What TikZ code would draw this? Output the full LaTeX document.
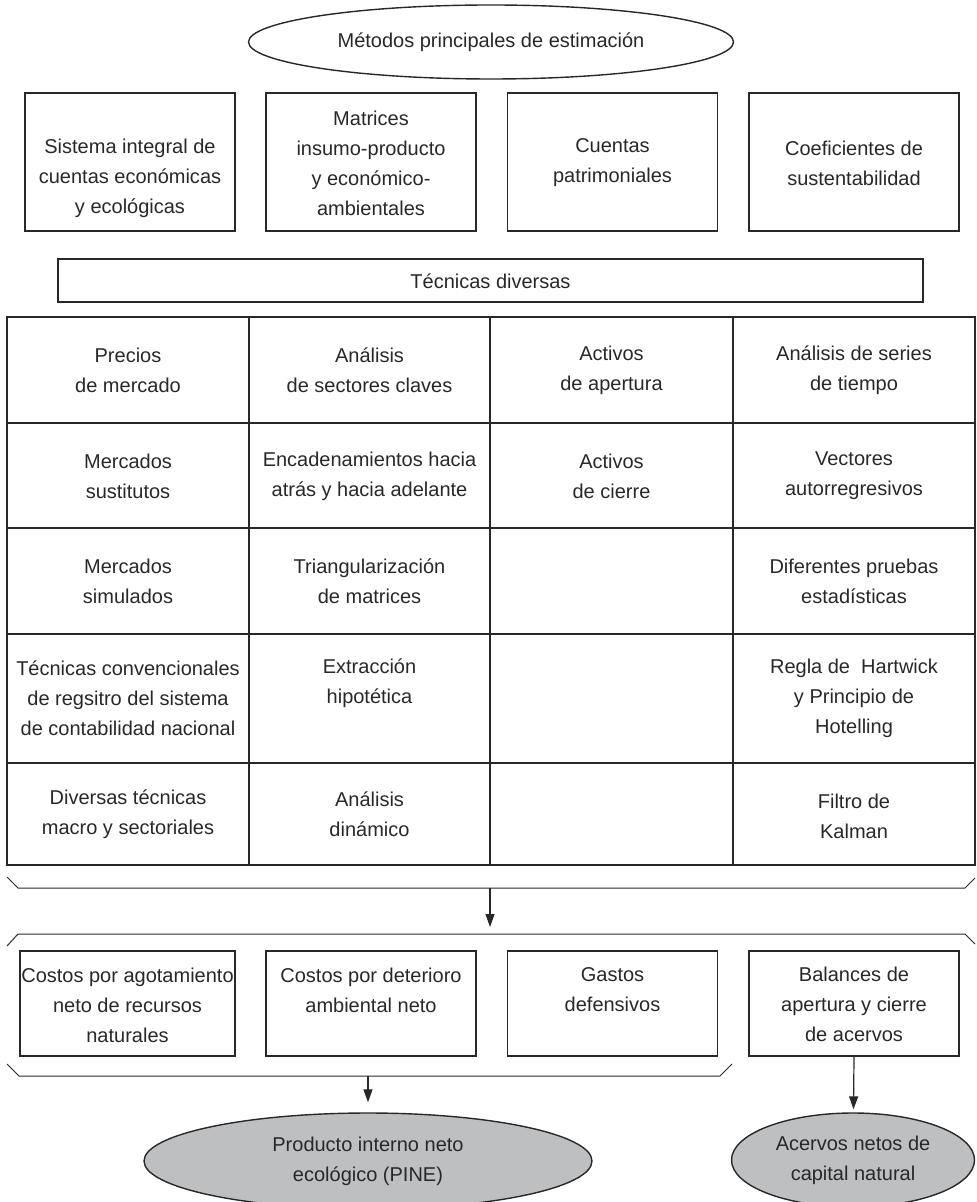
\documentclass[tikz,border=0pt]{standalone}
\usepackage{fontspec}
\setmainfont{Liberation Sans}
\usetikzlibrary{shapes.geometric,arrows.meta}

\definecolor{linea}{RGB}{40,40,40}
\definecolor{grisel}{RGB}{190,191,193}

\tikzset{
    caja/.style={draw=linea, line width=0.7pt, minimum width=105pt, minimum height=69pt, inner sep=0pt},
    texto/.style={align=center, inner sep=0pt, text=linea, font=\fontsize{10}{15}\selectfont},
    elipse/.style={ellipse, draw=linea, line width=0.7pt, inner sep=0pt, align=center, text=linea, font=\fontsize{10}{15}\selectfont},
    llave/.style={draw=linea, line width=0.5pt},
    flecha/.style={draw=linea, line width=0.6pt, -{Triangle[length=6.5pt,width=4.5pt]}}
}

\begin{document}
\begin{tikzpicture}[x=0.5pt, y=-0.5pt]
    \useasboundingbox (0,0) rectangle (976,1202);

    % Metodos principales
    \node[elipse, minimum width=242.5pt, minimum height=37pt] (metodos) at (491,42) {Métodos principales de estimación};

    \foreach \n/\x/\ty/\txt in {
        sie/130/178/{Sistema integral de\\cuentas económicas\\y ecológicas},
        mip/371/163/{Matrices\\insumo-producto\\y económico-\\ambientales},
        cpa/612.5/163/{Cuentas\\patrimoniales},
        cse/854/163/{Coeficientes de\\sustentabilidad}} {
        \node[caja] (\n) at (\x,162) {};
        \node[texto] (\n-t) at (\x,\ty) {\txt};
    }

    % Tecnicas diversas
    \node[caja, minimum width=432.5pt, minimum height=21.5pt] (tecnicas) at (490.5,280.5) {};
    \node[texto] (tecnicas-t) at (490.5,281) {Técnicas diversas};

    % Tabla
    \draw[linea, line width=0.7pt] (7,317) rectangle (975,865);
    \foreach \x in {249,490,733} {
        \draw[linea, line width=0.7pt] (\x,317) -- (\x,865);
    }
    \foreach \y in {423,528,634,763} {
        \draw[linea, line width=0.7pt] (7,\y) -- (975,\y);
    }
    \foreach \n/\x/\y/\txt in {
        c11/128/370/{Precios\\de mercado},
        c12/369.5/370/{Análisis\\de sectores claves},
        c13/611.5/370/{Activos\\de apertura},
        c14/854/370/{Análisis de series\\de tiempo},
        c21/128/476/{Mercados\\sustitutos},
        c22/369.5/476/{Encadenamientos hacia\\atrás y hacia adelante},
        c23/611.5/476/{Activos\\de cierre},
        c24/854/476/{Vectores\\autorregresivos},
        c31/128/581/{Mercados\\simulados},
        c32/369.5/581/{Triangularización\\de matrices},
        c34/854/581/{Diferentes pruebas\\estadísticas},
        c41/128/698.5/{Técnicas convencionales\\de regsitro del sistema\\de contabilidad nacional},
        c42/369.5/683/{Extracción\\hipotética},
        c44/854/698.5/{Regla de~ Hartwick\\y Principio de\\Hotelling},
        c51/128/814/{Diversas técnicas\\macro y sectoriales},
        c52/369.5/814/{Análisis\\dinámico},
        c54/854/816/{Filtro de\\Kalman}} {
        \node[texto] (\n) at (\x,\y) {\txt};
    }

    % Llaves y flecha central
    \coordinate (b1mid) at (490,888);
    \coordinate (b2top) at (490,927);
    \draw[llave] (7,877) -- (18,888) -- (965,888) -- (975,878);
    \draw[llave] (7,946) -- (18,934) -- (965,934) -- (975,944);
    \draw[flecha] (b1mid) -- (b2top);

    % Costos y balances
    \foreach \n/\x/\w/\ty/\txt in {
        cag/127.5/107.5/1005/{Costos por agotamiento\\neto de recursos\\naturales},
        cda/371/105/990/{Costos por deterioro\\ambiental neto},
        gde/612.5/105/990/{Gastos\\defensivos},
        bal/854/105/1004/{Balances de\\apertura y cierre\\de acervos}} {
        \node[caja, minimum width=\w pt, minimum height=52.5pt] (\n) at (\x,1003.5) {};
        \node[texto] (\n-t) at (\x,\ty) {\txt};
    }

    \coordinate (b3mid) at (368,1076);
    \draw[llave] (7,1064) -- (19,1076) -- (720,1076) -- (732,1064);

    % Resultados
    \node[elipse, fill=grisel, minimum width=224pt, minimum height=48pt] (pine) at (368,1161) {Producto interno neto\\ecológico (PINE)};
    \node[elipse, fill=grisel, minimum width=121.5pt, minimum height=47pt] (acervos) at (853,1160) {Acervos netos de\\capital natural};

    \draw[flecha, shorten >=5pt] (b3mid) -- (pine);
    \draw[flecha, shorten >=1.5pt] (bal.south) -- (acervos);
\end{tikzpicture}
\end{document}
